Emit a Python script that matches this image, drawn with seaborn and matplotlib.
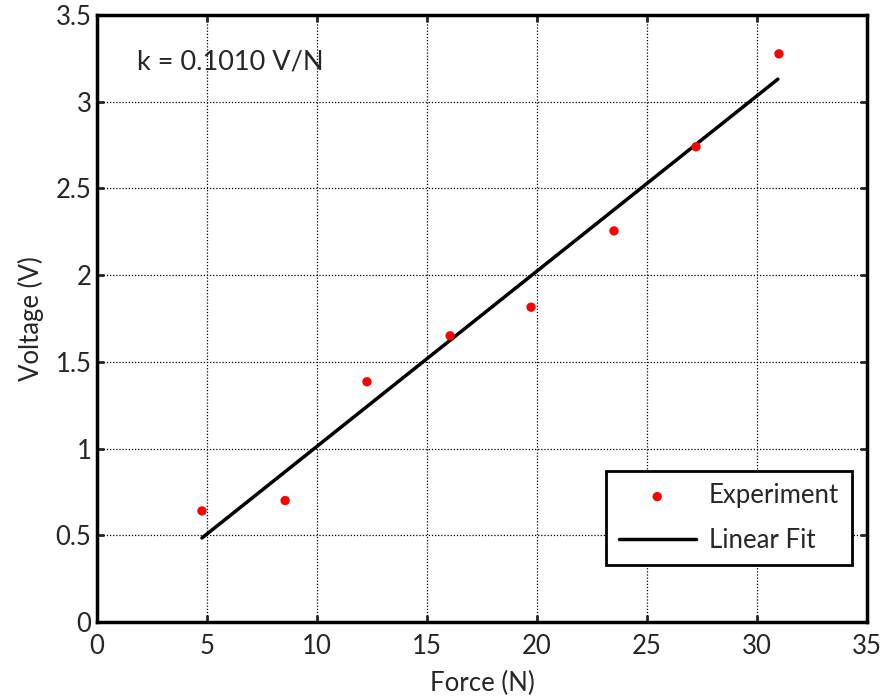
import numpy as np
import pandas as pd
import seaborn as sns
import matplotlib.pyplot as plt

force = [4.77, 8.55, 12.27, 16.05, 19.73, 23.5, 27.23, 31.0]
voltage = [0.64, 0.70, 1.385, 1.65, 1.815, 2.255, 2.74, 3.276]

# linear fit segment endpoints
fit_force = [4.77, 30.95]
fit_voltage = [0.484, 3.13]

data = pd.DataFrame({"Force": force, "Voltage": voltage})
fit = pd.DataFrame({"Force": fit_force, "Voltage": fit_voltage})

sns.set_style("white")
plt.rcParams["font.family"] = ["Lato", "DejaVu Sans"]

fig = plt.figure(figsize=(8.86, 6.98), dpi=100)
ax = fig.add_axes([0.1095, 0.109, 0.869, 0.8695])

sns.scatterplot(data=data, x="Force", y="Voltage", color="red", s=45,
                edgecolor="none", label="Experiment", ax=ax, zorder=3)
sns.lineplot(data=fit, x="Force", y="Voltage", color="black", linewidth=2.5,
             label="Linear Fit", ax=ax, zorder=2)

ax.set_xlim(0, 35)
ax.set_ylim(0, 3.5)
ax.set_xticks(np.arange(0, 36, 5))
ax.set_yticks(np.arange(0, 3.6, 0.5))
ax.set_xticklabels([str(v) for v in range(0, 36, 5)])
ax.set_yticklabels(["0", "0.5", "1", "1.5", "2", "2.5", "3", "3.5"])
ax.grid(True, color="black", linestyle=(0, (1, 1.5)), linewidth=0.9)
ax.tick_params(direction="in", length=5, width=2, labelsize=18.5,
               top=True, right=True, bottom=True, left=True)
ax.tick_params(axis="x", pad=9)
ax.tick_params(axis="y", pad=4)
for s in ax.spines.values():
    s.set_linewidth(2.5)
    s.set_color("black")

ax.set_xlabel("Force (N)", fontsize=18.5, labelpad=8)
ax.set_ylabel("Voltage (V)", fontsize=18.5, labelpad=8)
ax.text(1.82, 3.23, "k = 0.1010 V/N", fontsize=19.5, va="center")

leg = ax.legend(loc="lower right", bbox_to_anchor=(0.98, 0.093), fontsize=18.5,
                fancybox=False, framealpha=1, edgecolor="black",
                handlelength=3.0, handletextpad=0.5, borderpad=0.5,
                labelspacing=0.75, borderaxespad=0)
leg.get_frame().set_linewidth(2)

fig.savefig("out.png", dpi=100)
